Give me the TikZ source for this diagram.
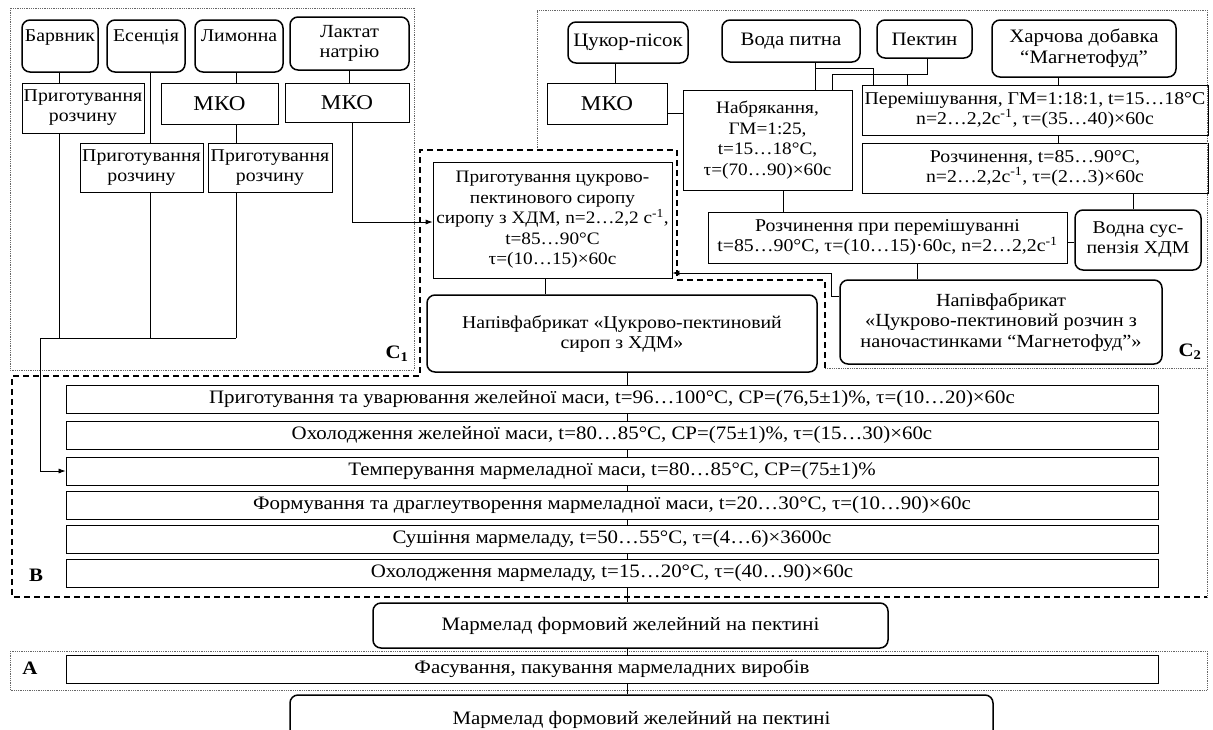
\documentclass[tikz,border=0pt]{standalone}
\usepackage{fontspec}
\setmainfont[FakeStretch=1.1]{Liberation Serif}
\usetikzlibrary{arrows.meta}
\newcommand\fs[1]{\fontsize{#1}{#1*1.1}\selectfont}
\tikzset{
 base/.style={inner sep=0pt, align=center, font=\fontsize{19}{21}\selectfont},
 pbox/.style={base, draw, line width=0.7pt},
 ibox/.style={base, draw, line width=1.5pt, rounded corners=8pt},
 rowbox/.style={base, draw, line width=0.8pt},
 conn/.style={line width=0.7pt},
 arr/.style={conn, -{Latex[length=7pt,width=5pt]}},
 dotfr/.style={line width=0.8pt, densely dotted, black!60},
 dashfr/.style={line width=1.3pt, dash pattern=on 6pt off 4pt},
 lbl/.style={font=\fontsize{19}{21}\selectfont\bfseries, inner sep=0pt},
 f18/.style={font=\fontsize{18}{20}\selectfont},
 f175/.style={font=\fontsize{17.5}{20.5}\selectfont},
 f185/.style={font=\fontsize{18.5}{20.5}\selectfont},
 fbig/.style={font=\fontsize{21}{23}\selectfont},
}
\newcommand\bx[7]{%
 \pgfmathsetmacro\bxcx{(#3+#5)/2}\pgfmathsetmacro\bxcy{(#4+#6)/2}%
 \pgfmathsetmacro\bxw{#5-#3}\pgfmathsetmacro\bxh{#6-#4}%
 \node[#1, minimum width=\bxw pt, minimum height=\bxh pt] (#2) at (\bxcx,\bxcy) {#7};}
\newcommand\mo{\textsuperscript{-1}}
\begin{document}
\begin{tikzpicture}[x=1pt,y=-1pt]
\useasboundingbox (0,0) rectangle (1213,729);
\clip (0,0) rectangle (1213,729);
\fill[white] (0,0) rectangle (1213,729);
% ---- C1 ----
\bx{ibox,f18}{barv}{22}{20}{98}{72}{Барвник\\~}
\bx{ibox,f18}{esen}{107}{20}{185}{72}{Есенція\\~}
\bx{ibox,f18}{lym}{195}{20}{283}{72}{Лимонна\\~}
\bx{ibox,f185}{lak}{290}{17}{409}{70}{Лактат\\натрію}
\bx{pbox,f18}{prepA}{22}{83}{144}{133}{Приготування\\розчину}
\bx{pbox,fbig}{mkoA}{161}{83}{278}{124}{МКО}
\bx{pbox,fbig}{mkoB}{285}{83}{409}{122}{МКО}
\bx{pbox,f18}{prepB}{80}{143}{203}{192}{Приготування\\розчину}
\bx{pbox,f18}{prepC}{208}{143}{332}{192}{Приготування\\розчину}
% ---- C2 ----
\bx{ibox}{cuk}{568}{22}{688}{63}{Цукор-пісок}
\bx{ibox}{voda}{722}{20}{860}{62}{Вода питна}
\bx{ibox}{pekt}{877}{20}{972}{58}{Пектин}
\bx{ibox}{khar}{992}{20}{1176}{77}{Харчова добавка\\“Магнетофуд”}
\bx{pbox,fbig}{mkoC}{547}{83}{667}{124}{МКО}
\bx{pbox,f175}{nab}{683}{90}{852}{190}{Набрякання,\\ГМ=1:25,\\t=15…18°С,\\τ=(70…90)×60с}
\bx{pbox,f18}{perem}{862}{85}{1208}{135}{Перемішування, ГМ=1:18:1, t=15…18°С\\n=2…2,2с\mo, τ=(35…40)×60с}
\bx{pbox,f18}{rozch}{862}{143}{1208}{193}{Розчинення, t=85…90°С,\\n=2…2,2с\mo, τ=(2…3)×60с}
\bx{pbox,f18}{rpp}{708}{212}{1067}{263}{Розчинення при перемішуванні\\t=85…90°С, τ=(10…15)·60с, n=2…2,2с\mo}
\bx{ibox,f18}{vodas}{1075}{210}{1201}{270}{Водна сус-\\пензія ХДМ}
\bx{ibox,f185}{nap2}{840}{280}{1162}{364}{Напівфабрикат\\«Цукрово-пектиновий  розчин з\\наночастинками “Магнетофуд”»}
\bx{pbox,f175}{syrup}{433}{162}{672}{278}{Приготування цукрово-\\пектинового сиропу\\сиропу з ХДМ, n=2…2,2 с\mo,\\t=85…90°С\\τ=(10…15)×60с}
\bx{ibox,f18}{nap1}{427}{295}{817}{372}{Напівфабрикат «Цукрово-пектиновий\\сироп з ХДМ»}
% ---- B rows ----
\bx{rowbox}{r1}{66}{385}{1158}{413}{Приготування та уварювання желейної маси, t=96…100°С, СР=(76,5±1)\%, τ=(10…20)×60с}
\bx{rowbox}{r2}{66}{421}{1158}{449}{Охолодження желейної маси, t=80…85°С, СР=(75±1)\%, τ=(15…30)×60с}
\bx{rowbox}{r3}{66}{457}{1158}{485}{Темперування  мармеладної маси, t=80…85°С, СР=(75±1)\%}
\bx{rowbox}{r4}{66}{491}{1158}{519}{Формування та драглеутворення мармеладної маси, t=20…30°С, τ=(10…90)×60с}
\bx{rowbox}{r5}{66}{525}{1158}{553}{Сушіння мармеладу, t=50…55°С, τ=(4…6)×3600с}
\bx{rowbox}{r6}{66}{559}{1158}{587}{Охолодження мармеладу, t=15…20°С, τ=(40…90)×60с}
\bx{ibox}{marm}{373}{603}{888}{648}{Мармелад формовий желейний на пектині}
\bx{rowbox}{rA}{66}{655}{1158}{683}{Фасування, пакування мармеладних виробів}
\bx{ibox}{fin}{290}{695}{993}{745}{Мармелад формовий желейний на пектині}
% ---- labels ----
\node[lbl] (lB) at (36,575) {B};
\node[lbl] (lA) at (30,668) {A};
\node[lbl] (lC1) at (397,354) {C\textsubscript{1}};
\node[lbl] (lC2) at (1190,352) {C\textsubscript{2}};
% ---- frames ----
\draw[dotfr] (10,8) rectangle (414,370);
\draw[dotfr] (537,150) -- (537,10) -- (1207,10) -- (1207,597);
\draw[dotfr] (825,368) -- (1207,368);
\draw[dashfr] (825,368) -- (825,280) -- (677,280) -- (677,150) -- (420,150) -- (420,376) -- (12,376) -- (12,597) -- (1207,597);
\draw[dotfr] (10,651) rectangle (1207,690);
% ---- C1 connectors ----
\coordinate (jL) at (40,338);
\coordinate (jA) at (59,338);
\coordinate (jB) at (150,338);
\coordinate (jC) at (236,338);
\draw[conn] (barv.south -| jA) -- (prepA.north -| jA);
\draw[conn] (esen.south -| jB) -- (prepB.north -| jB);
\draw[conn] (lym.south -| jC) -- (mkoA.north -| jC);
\draw[conn] (mkoA.south -| jC) -- (prepC.north -| jC);
\draw[conn] (lak.south) -- (lak.south |- mkoB.north);
\draw[conn] (prepA.south -| jA) -- (jA);
\draw[conn] (prepB.south -| jB) -- (jB);
\draw[conn] (prepC.south -| jC) -- (jC);
\draw[arr] (jC) -- (jL) -- (jL |- r3.west) -- (r3.west);
\coordinate (kL) at (352,222);
\draw[arr] (mkoB.south -| kL) -- (kL) -- (kL -| syrup.west);
% ---- C2 connectors ----
\coordinate (cX) at (615,0);
\draw[conn] (cuk.south -| cX) -- (mkoC.north -| cX);
\coordinate (mY) at (0,113);
\draw[conn] (mkoC.east |- mY) -- (nab.west |- mY);
\coordinate (v1) at (815,68);
\coordinate (v2) at (873,68);
\draw[conn] (voda.south -| v1) -- (nab.north -| v1);
\draw[conn] (v1) -- (v2) -- (perem.north -| v2);
\coordinate (p1) at (832,74);
\coordinate (p2) at (907,74);
\coordinate (p3) at (927,74);
\draw[conn] (pekt.south -| p3) -- (p3) -- (p1) -- (nab.north -| p1);
\draw[conn] (p2) -- (perem.north -| p2);
\coordinate (hX) at (1058,0);
\draw[conn] (khar.south -| hX) -- (perem.north -| hX);
\draw[conn] (perem.south -| hX) -- (rozch.north -| hX);
\coordinate (rX) at (1133,0);
\draw[conn] (rozch.south -| rX) -- (vodas.north -| rX);
\coordinate (nX) at (783,0);
\draw[conn] (nab.south -| nX) -- (rpp.north -| nX);
\coordinate (wY) at (0,242);
\draw[conn] (vodas.west |- wY) -- (rpp.east |- wY);
\coordinate (qX) at (917,0);
\draw[conn] (rpp.south -| qX) -- (nap2.north -| qX);
\coordinate (aR) at (831,273);
\coordinate (aR2) at (831,296);
\draw[arr] (aR2 -| nap2.west) -- (aR2) -- (aR) -- (aR -| syrup.east);
% ---- main line ----
\coordinate (sX) at (545,0);
\draw[conn] (syrup.south -| sX) -- (nap1.north -| sX);
\coordinate (mX) at (627,0);
\draw[conn] (nap1.south -| mX) -- (r1.north -| mX);
\draw[conn] (r1.south -| mX) -- (r2.north -| mX);
\draw[conn] (r2.south -| mX) -- (r3.north -| mX);
\draw[conn] (r3.south -| mX) -- (r4.north -| mX);
\draw[conn] (r4.south -| mX) -- (r5.north -| mX);
\draw[conn] (r5.south -| mX) -- (r6.north -| mX);
\draw[conn] (r6.south -| mX) -- (marm.north -| mX);
\draw[conn] (marm.south -| mX) -- (rA.north -| mX);
\draw[conn] (rA.south -| mX) -- (fin.north -| mX);
\end{tikzpicture}
\end{document}
